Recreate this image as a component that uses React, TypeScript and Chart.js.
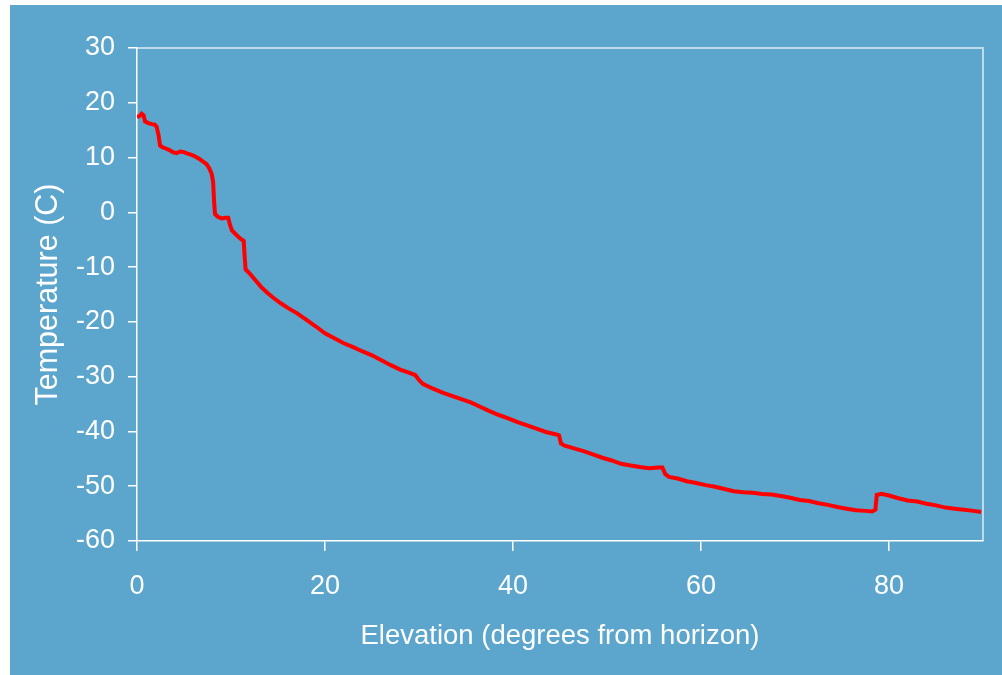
import React, { useEffect, useRef } from "react";
import { Chart, registerables } from "chart.js";

Chart.register(...registerables);

const elevation: number[] = [
  0, 0.3, 0.5, 0.7, 0.85, 1.2, 1.6, 1.9, 2.1, 2.3, 2.45, 2.7, 3.0, 3.4, 3.8, 4.2, 4.6, 5.0, 5.4, 5.8,
  6.2, 6.6, 7.0, 7.4, 7.7, 7.95, 8.1, 8.2, 8.3, 8.6, 9.0, 9.4, 9.7, 9.9, 10.1, 10.5, 11.0, 11.35, 11.45, 11.55,
  12.0, 12.6, 13.2, 13.8, 14.5, 15.3, 16.0, 17.0, 18.0, 19.0, 20.0, 21.0, 22.0, 23.0, 24.0, 25.0, 26.0, 27.0, 28.0, 29.0,
  29.6, 30.0, 30.4, 31.5, 32.5, 33.5, 34.5, 35.5, 36.5, 37.5, 38.5, 39.5, 40.5, 41.5, 42.5, 43.5, 44.5, 44.9, 45.1, 45.5,
  46.5, 47.5, 48.5, 49.5, 50.5, 51.5, 52.5, 53.5, 54.5, 55.5, 55.9, 56.2, 56.6, 57.5, 58.5, 59.5, 60.5, 61.5, 62.5, 63.5,
  64.5, 65.5, 66.5, 67.5, 68.5, 69.5, 70.5, 71.5, 72.5, 73.5, 74.5, 75.5, 76.5, 77.5, 78.2, 78.55, 78.7, 79.2, 80.0, 81.0,
  82.0, 83.0, 84.0, 85.0, 86.0, 87.0, 88.0, 89.0, 89.8,
];

const temperature: number[] = [
  17.4, 17.6, 18.0, 17.7, 16.6, 16.3, 16.1, 16.0, 15.6, 14.0, 12.2, 11.9, 11.7, 11.4, 11.0, 10.8, 11.1, 11.0, 10.7, 10.5,
  10.2, 9.8, 9.3, 8.8, 8.0, 7.0, 5.5, 2.0, -0.3, -0.8, -1.1, -1.0, -1.0, -2.3, -3.3, -4.0, -4.8, -5.2, -8.0, -10.4,
  -11.2, -12.4, -13.6, -14.6, -15.6, -16.6, -17.4, -18.4, -19.6, -20.8, -22.1, -23.0, -23.9, -24.6, -25.4, -26.1, -27.0, -27.9, -28.7, -29.3,
  -29.7, -30.6, -31.3, -32.2, -32.9, -33.5, -34.1, -34.7, -35.5, -36.3, -37.0, -37.6, -38.3, -38.9, -39.5, -40.1, -40.5, -40.7, -42.2, -42.6,
  -43.1, -43.6, -44.2, -44.8, -45.3, -45.9, -46.2, -46.5, -46.7, -46.6, -46.6, -47.8, -48.3, -48.6, -49.1, -49.4, -49.8, -50.1, -50.5, -50.9,
  -51.1, -51.2, -51.4, -51.5, -51.8, -52.1, -52.5, -52.7, -53.1, -53.4, -53.8, -54.1, -54.4, -54.5, -54.6, -54.3, -51.6, -51.4, -51.7, -52.2,
  -52.6, -52.8, -53.2, -53.5, -53.9, -54.1, -54.3, -54.5, -54.7,
];

const xTicks: number[] = [0, 20, 40, 60, 80];
const yTicks: number[] = [-60, -50, -40, -30, -20, -10, 0, 10, 20, 30];

const FONT = "'Liberation Sans', Arial, sans-serif";

const frameLines = {
  id: "frameLines",
  afterDraw(chart: any) {
    const { ctx, chartArea } = chart;
    ctx.save();
    ctx.strokeStyle = "rgba(255,255,255,0.6)";
    ctx.lineWidth = 2;
    ctx.beginPath();
    ctx.moveTo(chartArea.left, chartArea.top);
    ctx.lineTo(chartArea.right, chartArea.top);
    ctx.lineTo(chartArea.right, chartArea.bottom);
    ctx.stroke();
    ctx.restore();
  },
};

export default function App() {
  const ref = useRef<HTMLCanvasElement | null>(null);

  useEffect(() => {
    if (!ref.current) return;
    const points = elevation.map((x, i) => ({ x, y: temperature[i] }));
    const chart = new Chart(ref.current, {
      type: "line",
      data: {
        datasets: [
          {
            data: points,
            borderColor: "#ff0000",
            borderWidth: 4,
            pointRadius: 0,
            tension: 0,
            fill: false,
          },
        ],
      },
      options: {
        animation: false,
        responsive: false,
        layout: { padding: { left: 0, top: 43, right: 19, bottom: 0 } },
        plugins: { legend: { display: false }, tooltip: { enabled: false } },
        scales: {
          x: {
            type: "linear",
            min: 0,
            max: 90,
            afterFit: (s: any) => {
              s.height = 134;
            },
            afterBuildTicks: (s: any) => {
              s.ticks = xTicks.map((v) => ({ value: v }));
            },
            ticks: {
              color: "#ffffff",
              font: { family: FONT, size: 27 },
              padding: 19,
              maxRotation: 0,
            },
            grid: { drawOnChartArea: false, drawTicks: true, tickLength: 10, color: "#ffffff", lineWidth: 1.5 },
            border: { display: true, color: "#ffffff", width: 1.5 },
            title: {
              display: true,
              text: "Elevation (degrees from horizon)",
              color: "#ffffff",
              font: { family: FONT, size: 27.5 },
              padding: { top: 0, bottom: 22 },
            },
          },
          y: {
            type: "linear",
            min: -60,
            max: 30,
            afterFit: (s: any) => {
              s.width = 127;
            },
            afterBuildTicks: (s: any) => {
              s.ticks = yTicks.map((v) => ({ value: v }));
            },
            ticks: {
              color: "#ffffff",
              font: { family: FONT, size: 27 },
              padding: 13,
            },
            grid: { drawOnChartArea: false, drawTicks: true, tickLength: 9, color: "#ffffff", lineWidth: 1.5 },
            border: { display: true, color: "#ffffff", width: 1.5 },
            title: {
              display: true,
              text: "Temperature (C)",
              color: "#ffffff",
              font: { family: FONT, size: 30.5 },
              padding: { top: 20, bottom: 0 },
            },
          },
        },
      },
      plugins: [frameLines],
    });
    return () => chart.destroy();
  }, []);

  return (
    <div
      style={{
        position: "fixed",
        left: 10,
        top: 5,
        width: 992,
        height: 670,
        background: "#5ca5cd",
      }}
    >
      <canvas ref={ref} width={992} height={670} style={{ display: "block" }} />
    </div>
  );
}
